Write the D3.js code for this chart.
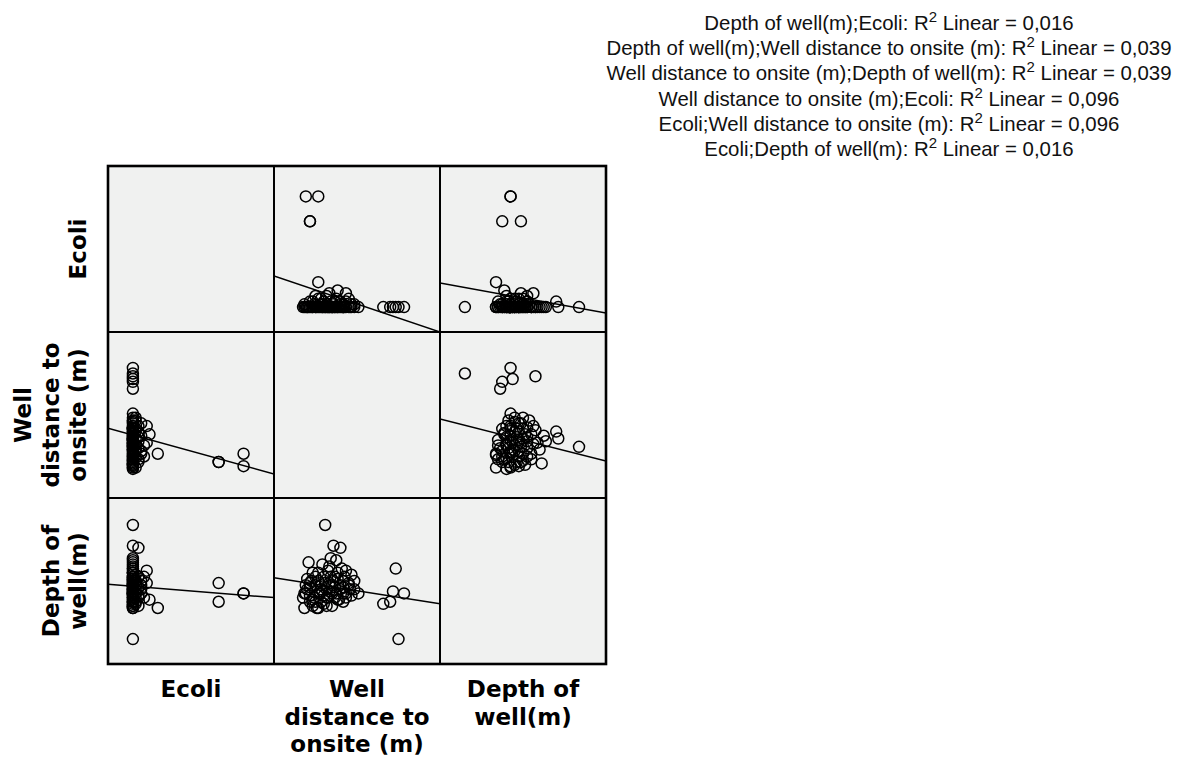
<!DOCTYPE html>
<html>
<head>
<meta charset="utf-8">
<script src="https://cdn.jsdelivr.net/npm/d3@7"></script>
<style>
  body { margin: 0; background: #fff; }
</style>
</head>
<body>
<div id="chart-area"></div>
<script>
// variables of the scatterplot matrix
const variables = ["Ecoli", "Well distance to onsite (m)", "Depth of well(m)"];
const labelLines = [["Ecoli"], ["Well", "distance to", "onsite (m)"], ["Depth of", "well(m)"]];

// one value per well
const ecoli = [31, 31, 40, 40, 0, 0, 0, 0, 0, 0, 0, 2, 0, 0, 9, 6, 5, 5, 3, 4, 2, 1, 3, 2, 1, 4,
  0, 0, 0, 0, 0, 0, 0, 0, 0, 0, 0, 0, 0, 0, 0, 0, 0, 0, 0, 0, 0, 0, 0, 0, 0, 0, 0, 0, 0, 0,
  1, 0, 2, 1, 0, 3, 1, 0, 2, 0, 1, 0, 2, 0, 1, 0, 3, 0, 1, 0, 2, 0, 1, 0, 0, 0, 0, 1, 0, 0];
const distance = [8, 8, 6.5, 11, 40, 34.5, 37, 42, 38, 39, 13.5, 19, 16.5, 15.5, 11, 18, 15, 21,
  12, 14, 17, 20, 22, 9, 24, 10, 5.5, 7, 8.5, 10, 11.5, 12, 13, 14, 15, 16, 17, 18, 19, 20, 21,
  22, 23, 24, 25.5, 6, 9, 12.5, 16, 19.5, 14.5, 10.5, 20.5, 7.5, 17.5, 8,
  6, 7, 8, 9.5, 10, 11, 12, 12.5, 13, 13.5, 14, 14.5, 15.5, 16, 16.5, 17, 17.5, 18.5, 19, 20,
  21, 22.5, 23, 9, 11, 15, 18, 13, 20, 6.5];
const depth = [15, 19.5, 17, 17, 6, 14.5, 15, 17, 17.5, 23, 33.5, 28, 28.5, 25.5, 13.5, 15.5,
  19.5, 22.5, 18, 16, 21, 17, 19, 14, 20, 21, 16, 18, 20, 15, 17, 19, 21, 14, 17.5, 19, 16, 20.5,
  18, 15, 17, 19.5, 16.5, 18, 17, 13.5, 22, 24, 14, 23, 22.5, 13.5, 21, 24.5, 25, 16.5,
  17, 20.5, 18.5, 16, 19, 20, 15, 17.5, 16.5, 19.5, 18, 16, 21, 17, 20, 18.5, 17, 15.5, 19, 18.5,
  16, 18, 21.5, 15.5, 22, 23.5, 22, 14.5, 20, 19];

// axis ranges of each variable (no ticks are shown)
const domains = [[-9, 51], [-5, 55], [0, 40]];

// linear fit lines: y variable (row), x variable (col), intercept, slope
const fitRow = [0, 0, 1, 1, 2, 2];
const fitCol = [1, 2, 0, 2, 0, 1];
const fitIntercept = [9.535, 8.7, 17.725, 23.56, 18.72, 20.28];
const fitSlope = [-0.337, -0.2715, -0.275, -0.3795, -0.0533, -0.1047];

// R2 legend
const r2Pairs = [[2, 0], [2, 1], [1, 2], [1, 0], [0, 1], [0, 2]];
const r2Values = ["0,016", "0,039", "0,039", "0,096", "0,096", "0,016"];

const LEFT = 108;
const TOP = 166;
const CELL = 166;
const LINE_H = 27.5;

const svg = d3
  .select("#chart-area")
  .append("svg")
  .attr("width", 1186)
  .attr("height", 758);

svg.append("defs")
  .append("clipPath")
  .attr("id", "cell-clip")
  .append("rect")
  .attr("width", CELL)
  .attr("height", CELL);

const g = svg.append("g").attr("transform", `translate(${LEFT}, ${TOP})`);

const columns = [ecoli, distance, depth];
const records = ecoli.map((d, i) => columns.map((c) => c[i]));

// scales, one per variable
const x = domains.map((d) => d3.scaleLinear().domain(d).range([0, CELL]));
const y = domains.map((d) => d3.scaleLinear().domain(d).range([CELL, 0]));

const cells = d3.cross(d3.range(3), d3.range(3)).map(([row, col]) => ({ row, col }));

const cell = g
  .selectAll(".cell")
  .data(cells)
  .join("g")
  .attr("class", "cell")
  .attr("transform", (d) => `translate(${d.col * CELL}, ${d.row * CELL})`);

cell.append("rect")
  .attr("width", CELL)
  .attr("height", CELL)
  .attr("fill", "#f0f1f0")
  .attr("stroke", "#000")
  .attr("stroke-width", 2);

cell.filter((d) => d.row !== d.col).each(function (c) {
  const inner = d3.select(this).append("g").attr("clip-path", "url(#cell-clip)");

  inner.selectAll("circle")
    .data(records)
    .join("circle")
    .attr("cx", (d) => x[c.col](d[c.col]))
    .attr("cy", (d) => y[c.row](d[c.row]))
    .attr("r", 5.5)
    .attr("fill", "none")
    .attr("stroke", "#000")
    .attr("stroke-width", 1.5);

  // fit line across the whole panel
  const k = fitRow.findIndex((r, i) => r === c.row && fitCol[i] === c.col);
  const line = d3.line()
    .x((v) => x[c.col](v))
    .y((v) => y[c.row](fitIntercept[k] + fitSlope[k] * v));
  inner.append("path")
    .attr("d", line(domains[c.col]))
    .attr("fill", "none")
    .attr("stroke", "#000")
    .attr("stroke-width", 1.5);
});

// outer frame
g.append("rect")
  .attr("width", CELL * 3)
  .attr("height", CELL * 3)
  .attr("fill", "none")
  .attr("stroke", "#000")
  .attr("stroke-width", 2.6);

// left labels (rotated)
labelLines.forEach((lines, i) => {
  const cy = TOP + i * CELL + CELL / 2;
  const bx = 86 - (lines.length - 1) * LINE_H;
  const t = svg.append("text")
    .attr("transform", `translate(${bx}, ${cy}) rotate(-90)`)
    .attr("text-anchor", "middle")
    .attr("font-family", "DejaVu Sans, Verdana, sans-serif")
    .attr("font-weight", "bold")
    .attr("font-size", "23px");
  lines.forEach((s, j) => {
    t.append("tspan").attr("x", 0).attr("dy", j === 0 ? 0 : LINE_H).text(s);
  });
});

// bottom labels
labelLines.forEach((lines, i) => {
  const cx = LEFT + i * CELL + CELL / 2;
  const t = svg.append("text")
    .attr("x", cx)
    .attr("y", 697)
    .attr("text-anchor", "middle")
    .attr("font-family", "DejaVu Sans, Verdana, sans-serif")
    .attr("font-weight", "bold")
    .attr("font-size", "23px");
  lines.forEach((s, j) => {
    t.append("tspan").attr("x", cx).attr("dy", j === 0 ? 0 : LINE_H).text(s);
  });
});

// R2 legend
r2Pairs.forEach(([a, b], i) => {
  const t = svg.append("text")
    .attr("x", 889)
    .attr("y", 30 + i * 25.2)
    .attr("text-anchor", "middle")
    .attr("font-family", "Liberation Sans, Arial, sans-serif")
    .attr("font-size", "20.4px")
    .attr("fill", "#111");
  t.append("tspan").text(`${variables[a]};${variables[b]}: R`);
  t.append("tspan").attr("font-size", "15px").attr("dy", -8).text("2");
  t.append("tspan").attr("dy", 8).text(` Linear = ${r2Values[i]}`);
});
</script>
</body>
</html>
